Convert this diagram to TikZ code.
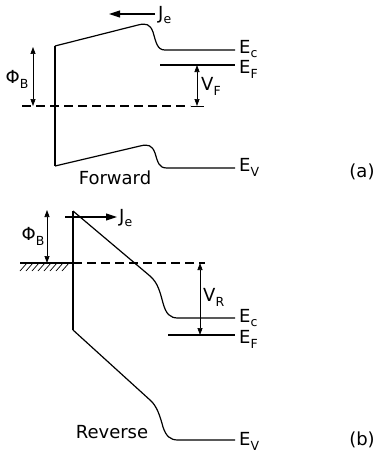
\documentclass[tikz,border=0pt]{standalone}
\usepackage{fontspec}
\setmainfont{DejaVu Sans}
\usetikzlibrary{arrows.meta}
\newcommand{\lsub}[1]{\raisebox{-0.5ex}{\fontsize{12.5}{12.5}\selectfont #1}}
\begin{document}
\begin{tikzpicture}[x=1pt,y=-1pt,
  band/.style={line width=1.2pt, line join=round},
  dimarrow/.style={line width=0.7pt, {Triangle[length=7pt,width=5pt]}-{Triangle[length=7pt,width=5pt]}},
  curarrow/.style={line width=1.1pt, -{Triangle[length=11pt,width=7pt]}},
  fermi/.style={line width=1.1pt, dash pattern=on 9pt off 5pt},
  thin/.style={line width=0.7pt},
  lbl/.style={inner sep=0pt, font=\fontsize{18}{18}\selectfont}]
\useasboundingbox (0,0) rectangle (379,452);

% ===== (a) Forward =====
\coordinate (aMtop) at (55,46);
\coordinate (aMbot) at (55,166);
\draw[band] (aMtop) -- (aMbot);
\draw[band] (aMtop) -- (138,25) .. controls (146,23) and (150,24) .. (153,32)
  .. controls (156,42) and (157,50) .. (165,50) -- (235,50) coordinate (aEc);
\draw[band] (aMbot) -- (140,146) .. controls (148,144) and (152,145) .. (155,153)
  .. controls (158,163) and (159,168) .. (167,168) -- (235,168) coordinate (aEv);
\coordinate (aEFl) at (160,65);
\coordinate (aEF) at (235,65);
\draw[band] (aEFl) -- (aEF);
\coordinate (aDl) at (22,106);
\coordinate (aDr) at (190,106);
\draw[fermi] (aDl) -- (aDr);
\draw[thin] (191,106) -- (204,106);
% V_F
\coordinate (aVFt) at (197,65);
\coordinate (aVFb) at (197,106);
\draw[dimarrow] (aVFt) -- (aVFb);
% Phi_B
\coordinate (aPt) at (33,47);
\coordinate (aPb) at (33,106);
\draw[dimarrow] (aPt) -- (aPb);
% J_e
\coordinate (aJs) at (155,14);
\coordinate (aJe) at (109,14);
\draw[curarrow] (aJs) -- (aJe);

\node[lbl, anchor=west] (laJe) at (158,15) {J\lsub{e}};
\node[lbl, anchor=west] (laEc) at (239,49) {E\lsub{c}};
\node[lbl, anchor=west] (laEF) at (239,69) {E\lsub{F}};
\node[lbl, anchor=west] (laEv) at (239,167) {E\lsub{V}};
\node[lbl, anchor=west] (laVF) at (201,86) {V\lsub{F}};
\node[lbl] (laPhi) at (17,79) {Φ\lsub{B}};
\node[lbl] (laFwd) at (115,178) {Forward};
\node[lbl] (laA) at (362,172) {(a)};

% ===== (b) Reverse =====
\coordinate (bMtop) at (73,211);
\coordinate (bMbot) at (73,330);
\draw[band] (bMtop) -- (bMbot);
\draw[band] (bMtop) -- (150,276) .. controls (158,283) and (160,292) .. (163,303)
  .. controls (166,314) and (170,318) .. (178,318) -- (235,318) coordinate (bEc);
\draw[band] (bMbot) -- (150,400) .. controls (157,406) and (160,416) .. (163,427)
  .. controls (166,436) and (170,440) .. (178,440) -- (235,440) coordinate (bEv);
\coordinate (bEFl) at (168,335);
\coordinate (bEF) at (235,335);
\draw[band] (bEFl) -- (bEF);
% metal surface with hatching
\coordinate (bSl) at (20,263);
\draw[band] (bSl) -- (bMtop |- bSl);
\foreach \x in {20,26,...,66} {
  \draw[thin] (\x,271) -- (\x+7,263);
}
\coordinate (bDr) at (205,263);
\draw[fermi] (73,263) -- (bDr);
% V_R
\coordinate (bVRt) at (200,263);
\coordinate (bVRb) at (200,335);
\draw[dimarrow] (bVRt) -- (bVRb);
% Phi_B
\coordinate (bPt) at (47,210);
\coordinate (bPb) at (47,263);
\draw[dimarrow] (bPt) -- (bPb);
% J_e
\coordinate (bJs) at (65,217);
\coordinate (bJe) at (117,217);
\draw[curarrow] (bJs) -- (bJe);

\node[lbl, anchor=west] (lbJe) at (119,218) {J\lsub{e}};
\node[lbl, anchor=west] (lbEc) at (239,318) {E\lsub{c}};
\node[lbl, anchor=west] (lbEF) at (239,339) {E\lsub{F}};
\node[lbl, anchor=west] (lbEv) at (239,441) {E\lsub{V}};
\node[lbl, anchor=west] (lbVR) at (203,297) {V\lsub{R}};
\node[lbl] (lbPhi) at (33,236) {Φ\lsub{B}};
\node[lbl] (lbRev) at (112,432) {Reverse};
\node[lbl] (lbB) at (362,440) {(b)};
\end{tikzpicture}
\end{document}
